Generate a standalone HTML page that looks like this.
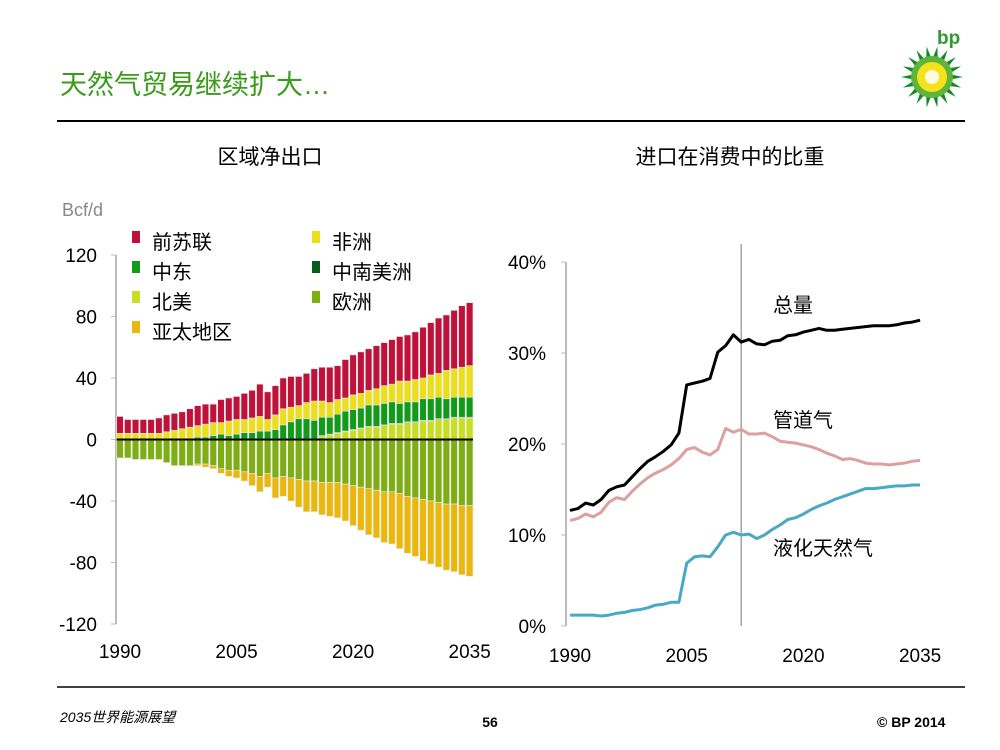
<!DOCTYPE html>
<html><head><meta charset="utf-8">
<style>
body{margin:0;background:#fff;font-family:"Liberation Sans","Noto Sans CJK SC",sans-serif;}
#wrap{position:relative;width:1000px;height:750px;overflow:hidden;}
svg text{font-family:"Liberation Sans","Noto Sans CJK SC",sans-serif;}
</style></head><body>
<div id="wrap">
<svg id="svg" width="1000" height="750" xmlns="http://www.w3.org/2000/svg">
<text x="60" y="94" font-size="27" fill="#3a9a1a">天然气贸易继续扩大…</text>
<line x1="57" y1="121" x2="965" y2="121" stroke="#000" stroke-width="2"/>
<g id="logo">
<text x="937" y="44" font-size="19" font-weight="bold" fill="#2e9a2e">bp</text>
</g>
<text x="270" y="164" font-size="21" text-anchor="middle">区域净出口</text>
<text x="730" y="164" font-size="21" text-anchor="middle">进口在消费中的比重</text>
<text x="62" y="216" font-size="18" fill="#888">Bcf/d</text>
<g id="left"></g>
<g id="right"></g>
<line x1="57" y1="687" x2="965" y2="687" stroke="#000" stroke-width="1.5"/>
<text x="60" y="722" font-size="14" font-style="italic">2035世界能源展望</text>
<text x="490" y="727" font-size="14" font-weight="bold" text-anchor="middle">56</text>
<text x="877" y="727" font-size="14" font-weight="bold">© BP 2014</text>
</svg>
</div>
<script>
// ---- Left chart data (Bcf/d), 1990..2035 ----
const years = [];
for (let y = 1990; y <= 2035; y++) years.push(y);
const fsu = [11,9,9,9,9,10,11,11,11,12,13,13,12,15,15,15,17,18,21,18,19,20,20,19,19,21,22,23,22,25,26,27,27,28,28,29,29,30,31,33,34,36,36,38,40,41];
const africa = [3.5,3.5,3.5,3.5,3.5,3.5,4.5,5.5,6.5,7.5,7.5,8.5,8.5,7.5,9.5,9.5,8.5,9.5,9.5,7.5,9.5,10.5,9.5,8.5,10.5,12.5,10.5,9.5,9.5,8.5,9.5,9.5,9.5,10.5,11.5,11.5,14.5,13.5,14.5,13.5,15.5,15.5,18.5,18.5,19.5,20.5];
const middleEast = [0,0,0,0,0,0,0,0,0,0,1,1,2,3,2,3,4,4,5,5,6,9,11,13,13,12,12,11,12,13,13,13,14,14,14,14,13,13,13,14,14,14,13,13,13,13];
const scAmerica = [0.5,0.5,0.5,0.5,0.5,0.5,0.5,0.5,0.5,0.5,0.5,0.5,0.5,0.5,0.5,0.5,0.5,0.5,0.5,0.5,0.5,0.5,0.5,0.5,0.5,0.5,0.5,0.5,0.5,0.5,0.5,0.5,0.5,0.5,0.5,0.5,0.5,0.5,0.5,0.5,0.5,0.5,0.5,0.5,0.5,0.5];
const northAmerica = [0,0,0,0,0,0,0,0,0,0,0,0,0,0,0,0,0,0,0,0,0,0,0,0,0,0,2,3,4,5,6,7,8,8,9,10,10,11,11,12,12,13,13,14,14,14];
const europe = [-12,-12,-13,-13,-13,-13,-15,-17,-17,-17,-16,-16,-17,-19,-20,-20,-21,-22,-24,-22,-25,-24,-25,-26,-27,-27,-28,-28,-28,-29,-30,-31,-32,-33,-34,-34,-35,-37,-38,-39,-40,-41,-42,-42,-43,-43];
const asiaPacific = [0,0,0,0,0,0,0,0,0,0,-1,-2,-2,-3,-4,-5,-6,-8,-10,-9,-13,-13,-15,-18,-20,-20,-21,-22,-23,-24,-26,-28,-30,-31,-33,-34,-36,-37,-38,-40,-41,-42,-43,-44,-45,-46];
const leftTicks = [120,80,40,0,-40,-80,-120];
const leftXLabels = [1990,2005,2020,2035];

// ---- Right chart data (% of consumption) ----
const totalImports = [12.7,12.9,13.5,13.3,13.9,14.9,15.3,15.5,16.4,17.3,18.1,18.6,19.2,19.9,21.2,26.5,26.7,26.9,27.2,30.1,30.8,32,31.2,31.5,31,30.9,31.3,31.4,31.9,32,32.3,32.5,32.7,32.5,32.5,32.6,32.7,32.8,32.9,33,33,33,33.1,33.3,33.4,33.6];
const pipeline = [11.6,11.8,12.3,12,12.5,13.6,14.1,13.9,14.8,15.6,16.3,16.8,17.2,17.7,18.4,19.4,19.6,19.1,18.8,19.4,21.7,21.3,21.6,21.1,21.1,21.2,20.8,20.3,20.2,20.1,19.9,19.7,19.4,19,18.7,18.3,18.4,18.2,17.9,17.8,17.8,17.7,17.8,17.9,18.1,18.2];
const lng = [1.2,1.2,1.2,1.2,1.1,1.2,1.4,1.5,1.7,1.8,2,2.3,2.4,2.6,2.6,6.9,7.6,7.7,7.6,8.7,10,10.3,10,10.1,9.6,10,10.6,11.1,11.7,11.9,12.3,12.8,13.2,13.5,13.9,14.2,14.5,14.8,15.1,15.1,15.2,15.3,15.4,15.4,15.5,15.5];
const rightTicks = [40,30,20,10,0];
const rightXLabels = [1990,2005,2020,2035];
const dividerYear = 2012;

const NS = "http://www.w3.org/2000/svg";
function mk(tag, attrs, parent, txt){
  const e = document.createElementNS(NS, tag);
  for (const k in attrs) e.setAttribute(k, attrs[k]);
  if (txt !== undefined) e.textContent = txt;
  parent.appendChild(e);
  return e;
}

// logo sunburst
(function(){
  const g = document.getElementById('logo');
  const cx = 932, cy = 77;
  for (let i = 0; i < 18; i++) {
    const a = i * Math.PI * 2 / 18;
    const p = mk('polygon', {points: `${cx+Math.cos(a-0.2)*16},${cy+Math.sin(a-0.2)*16} ${cx+Math.cos(a)*31},${cy+Math.sin(a)*31} ${cx+Math.cos(a+0.2)*16},${cy+Math.sin(a+0.2)*16}`, fill:'#118a2a'}, g);
    
    
  }
  const c1 = mk('circle', {cx:cx, cy:cy, r:21, fill:'#5fb53a'}, g);
  
  
  const c2 = mk('circle', {cx:cx, cy:cy, r:15, fill:'#f4e21a'}, g);
  
  
  const c3 = mk('circle', {cx:cx, cy:cy, r:7, fill:'#fffbe0'}, g);
  
  
})();

// ---- Left chart ----
(function(){
  const g = document.getElementById('left');
  const y0 = 439.5, k = 369/240;
  const ys = v => y0 - v*k;
  const xs = yr => 120 + (yr-1990)*7.77;
  const ax = mk('line', {x1:116, y1:ys(120), x2:116, y2:ys(-120), stroke:'#bbb', 'stroke-width':2}, g);
  
  
  leftTicks.forEach(t => {
    const tk = mk('line', {x1:111, y1:ys(t), x2:116, y2:ys(t), stroke:'#bbb', 'stroke-width':1}, g);
    
    
    const tx = mk('text', {x:97, y:ys(t)+7, 'font-size':19, 'text-anchor':'end'}, g, String(t));
    
    
  });
  leftXLabels.forEach(yr => {
    const tx = mk('text', {x:xs(yr), y:658, 'font-size':19, 'text-anchor':'middle'}, g, String(yr));
    
    
  });
  const pos = [[northAmerica,'#c8de1e','north-america'],[scAmerica,'#0b5a1e','south-central-america'],[middleEast,'#129a1a','middle-east'],[africa,'#ecde18','africa'],[fsu,'#c0113a','former-soviet-union']];
  const neg = [[europe,'#7fad14','europe'],[asiaPacific,'#eab80c','asia-pacific']];
  const bw = 6.6;
  years.forEach((yr,i) => {
    let base = 0;
    pos.forEach(([arr,col,nm]) => {
      const v = arr[i]; if (v <= 0) return;
      const r = mk('rect', {x:xs(yr)-bw/2, y:ys(base+v), width:bw, height:v*k, fill:col, stroke:'#e8e8e8', 'stroke-width':0.6}, g);
      
      
      base += v;
    });
    base = 0;
    neg.forEach(([arr,col,nm]) => {
      const v = arr[i]; if (v >= 0) return;
      const r = mk('rect', {x:xs(yr)-bw/2, y:ys(base), width:bw, height:-v*k, fill:col, stroke:'#e8e8e8', 'stroke-width':0.6}, g);
      
      
      base += v;
    });
  });
  const zl = mk('line', {x1:xs(1990)-bw/2, y1:y0, x2:xs(2035)+bw/2, y2:y0, stroke:'#000', 'stroke-width':2}, g);
  
  
  const leg = [['前苏联','#c0113a',132,242],['非洲','#ecde18',312,242],['中东','#129a1a',132,272],['中南美洲','#0b5a1e',312,272],['北美','#c8de1e',132,302],['欧洲','#7fad14',312,302],['亚太地区','#eab80c',132,332]];
  leg.forEach(([lb,col,x,y]) => {
    const sw = mk('rect', {x:x, y:y-11, width:8, height:12, fill:col}, g);
    
    
    const tx = mk('text', {x:x+20, y:y+7, 'font-size':20}, g, lb);
    
    
  });
})();

// ---- Right chart ----
(function(){
  const g = document.getElementById('right');
  const ys = v => 626 - v*9.1;
  const xs = yr => 570 + (yr-1990)*7.78;
  const ax = mk('line', {x1:566, y1:ys(40), x2:566, y2:ys(0), stroke:'#bbb', 'stroke-width':2}, g);
  
  
  rightTicks.forEach(t => {
    const tk = mk('line', {x1:561, y1:ys(t), x2:566, y2:ys(t), stroke:'#bbb', 'stroke-width':1}, g);
    
    
    const tx = mk('text', {x:546, y:ys(t)+7, 'font-size':19, 'text-anchor':'end'}, g, t + '%');
    
    
  });
  rightXLabels.forEach(yr => {
    const tx = mk('text', {x:xs(yr), y:662, 'font-size':19, 'text-anchor':'middle'}, g, String(yr));
    
    
  });
  const dv = mk('line', {x1:xs(dividerYear), y1:244, x2:xs(dividerYear), y2:ys(0), stroke:'#777', 'stroke-width':1}, g);
  
  
  const series = [[lng,'#4aa8c4','line-lng'],[pipeline,'#dca09e','line-pipeline'],[totalImports,'#000','line-total']];
  series.forEach(([arr,col,nm]) => {
    const d = arr.map((v,i) => (i?'L':'M') + xs(years[i]).toFixed(1) + ',' + ys(v).toFixed(1)).join(' ');
    const p = mk('path', {d:d, fill:'none', stroke:col, 'stroke-width':3, 'stroke-linejoin':'round'}, g);
    
    
  });
  const labels = [['总量',773,312,'label-total'],['管道气',773,427,'label-pipeline'],['液化天然气',773,555,'label-lng']];
  labels.forEach(([t,x,y,nm]) => {
    const tx = mk('text', {x:x, y:y, 'font-size':20}, g, t);
    
    
  });
})();
</script>
</body></html>
